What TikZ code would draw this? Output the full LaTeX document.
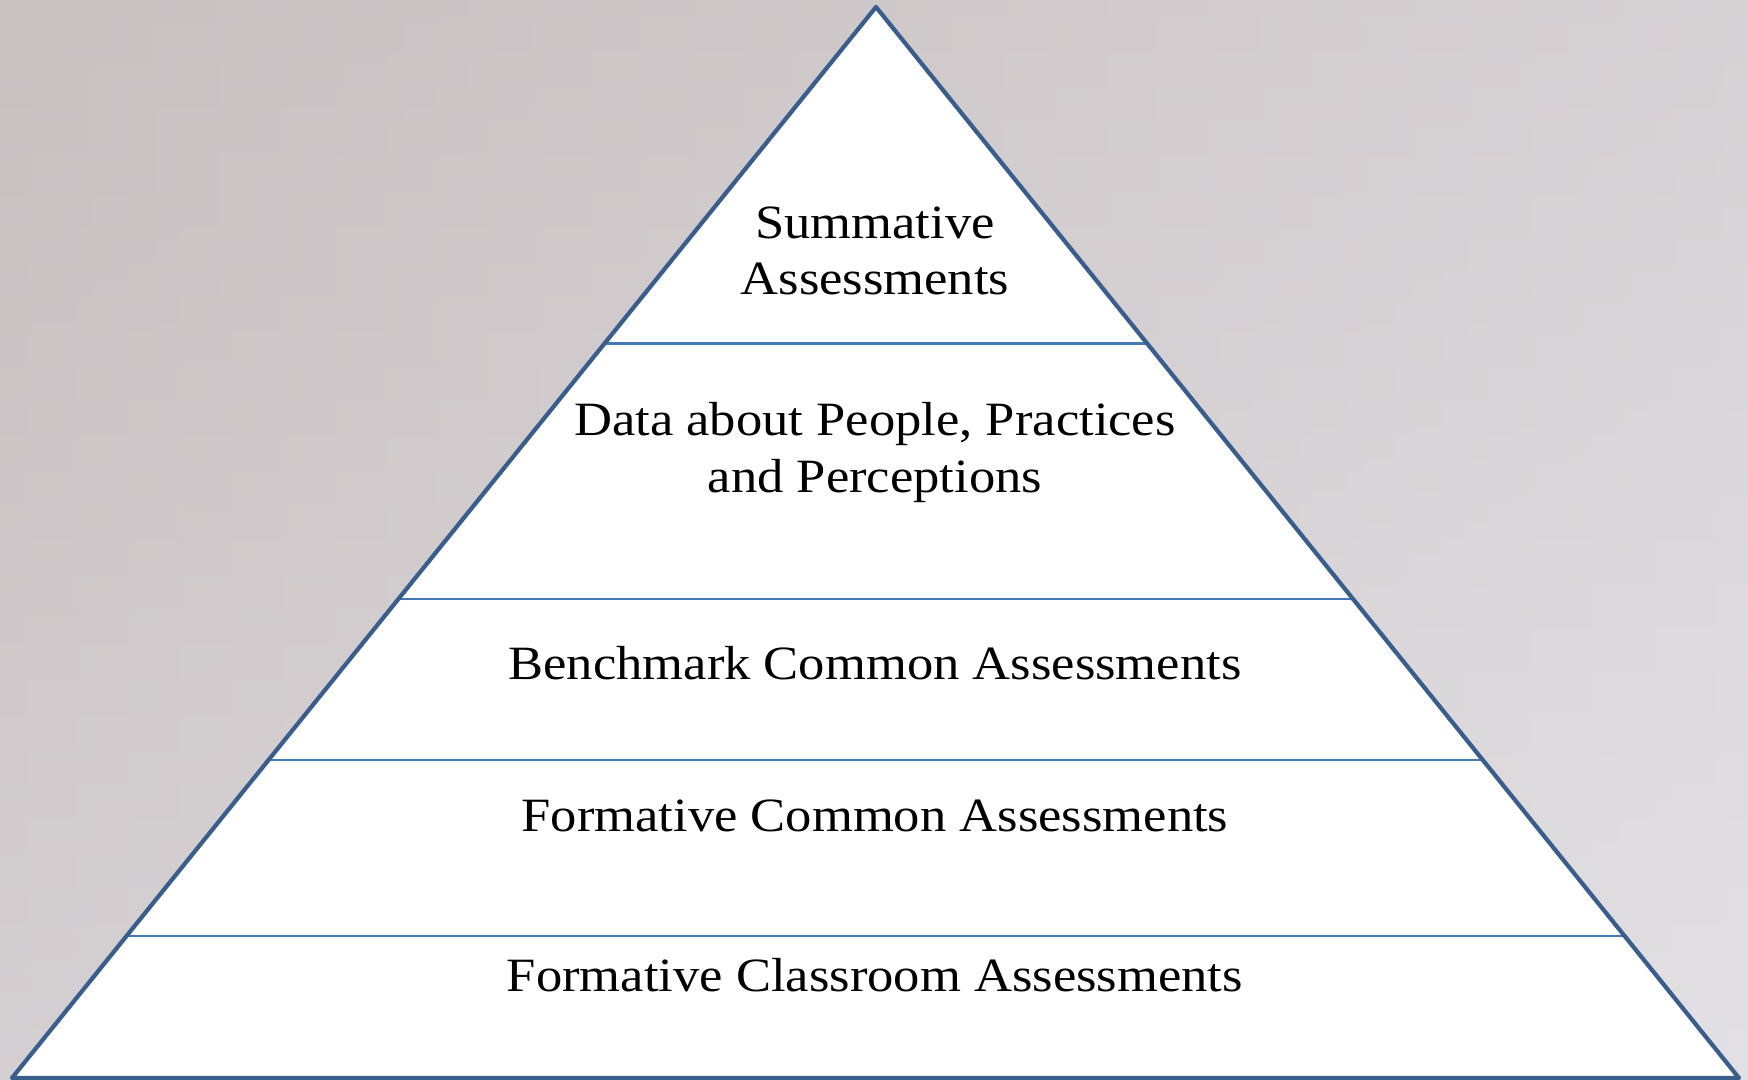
\documentclass[tikz,border=0pt]{standalone}
\usepackage{fontspec}
\setmainfont{Liberation Serif}[FakeStretch=1.1]
\usetikzlibrary{positioning}
\usetikzlibrary{calc}

\definecolor{pyrblue}{RGB}{58,94,140}
\definecolor{layerblue}{RGB}{70,120,180}
\definecolor{bgtop}{RGB}{200,192,193}
\definecolor{bgbottom}{RGB}{225,223,227}
\definecolor{bgright}{RGB}{228,226,230}

\begin{document}
\begin{tikzpicture}[
  layertext/.style={anchor=base, align=center, text=black, font=\fontsize{13.6}{16}\selectfont}
]
  % blurred photo behind the pyramid
  \shade[top color=bgtop, bottom color=bgbottom] (0,0) rectangle (17.48,10.80);
  \shade[left color=bgtop, right color=bgright, opacity=0.5] (0,0) rectangle (17.48,10.80);
  \useasboundingbox (0,0) rectangle (17.48,10.80);

  % corners of the pyramid
  \coordinate (apex) at (8.76,10.73);
  \coordinate (bl) at (0.12,0.02);
  \coordinate (br) at (17.39,0.02);

  \fill[white] (apex) -- (bl) -- (br) -- cycle;

  % lines between the layers
  \foreach \t [count=\i] in {0.3142,0.5527,0.7031,0.8674} {
    \coordinate (l\i) at ($(apex)!\t!(bl)$);
    \coordinate (r\i) at ($(apex)!\t!(br)$);
    \draw[layerblue, line width=0.7pt] (l\i) -- (r\i);
  }
  \draw[pyrblue, line width=1.2pt, line join=round] (apex) -- (bl) -- (br) -- cycle;

  % labels of the layers (base = last line)
  \node[layertext] (summ) at (8.75,7.85) {Summative\\Assessments};
  \node[layertext, font=\fontsize{13.6}{16.4}\selectfont] (data) at (8.75,5.87) {Data about People, Practices\\and Perceptions};
  \node[layertext] (bench) at (8.75,4.00) {Benchmark Common Assessments};
  \node[layertext] (fcommon) at (8.75,2.48) {Formative Common Assessments};
  \node[layertext] (fclass) at (8.75,0.88) {Formative Classroom Assessments};
\end{tikzpicture}
\end{document}
